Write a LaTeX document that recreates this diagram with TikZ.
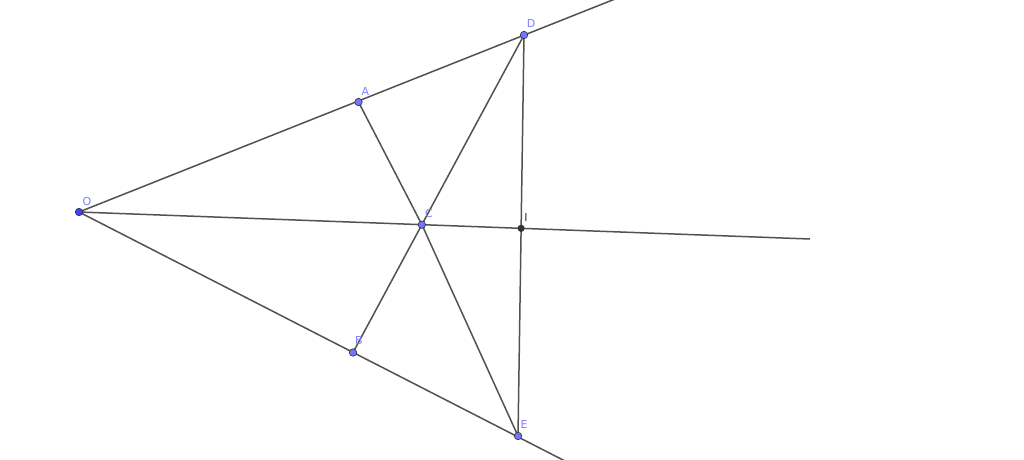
\documentclass[tikz,border=0pt]{standalone}
\usepackage{fontspec}
\setmainfont{DejaVu Sans}
\begin{document}
\begin{tikzpicture}[x=1pt,y=-1pt,
  seg/.style={draw=black!68,line width=1.5pt},
  pt/.style={circle,draw=black!80,fill=blue!55!white,line width=0.6pt,inner sep=0pt,minimum size=7.5pt},
  ptO/.style={pt,fill=blue!75!white},
  ptI/.style={pt,fill=black!80,minimum size=6.5pt},
  lbl/.style={text=blue!50!white,font=\fontsize{11}{13}\selectfont,inner sep=0pt},
  lblI/.style={lbl,text=black!80}]
\useasboundingbox (0,0) rectangle (1024,459);
\fill[white] (0,0) rectangle (1024,459);
\coordinate (O) at (79,212);
\coordinate (A) at (358.5,102);
\coordinate (D) at (524,35);
\coordinate (B) at (353,352.5);
\coordinate (E) at (518,436);
\coordinate (P) at (615,-1);
\coordinate (Q) at (565,461);
\coordinate (R) at (810,239);
\coordinate (C) at (intersection of O--R and B--D);
\coordinate (I) at (intersection of O--R and D--E);
\draw[seg] (O) -- (P);
\draw[seg] (O) -- (Q);
\draw[seg] (O) -- (R);
\draw[seg] (A) -- (C) -- (E);
\draw[seg] (B) -- (D);
\draw[seg] (D) -- (E);
\node[ptO] (nO) at (O) {};
\node[pt] (nA) at (A) {};
\node[pt] (nD) at (D) {};
\node[pt] (nB) at (B) {};
\node[pt] (nE) at (E) {};
\node[pt] (nC) at (C) {};
\node[ptI] (nI) at (I) {};
\node[lbl] (lO) at ([shift={(8,-11)}]O) {O};
\node[lbl] (lA) at ([shift={(7,-11)}]A) {A};
\node[lbl] (lD) at ([shift={(7,-12)}]D) {D};
\node[lbl] (lC) at ([shift={(7,-11)}]C) {C};
\node[lblI] (lI) at ([shift={(5,-11)}]I) {I};
\node[lbl] (lB) at ([shift={(6,-12)}]B) {B};
\node[lbl] (lE) at ([shift={(6,-12)}]E) {E};
\end{tikzpicture}
\end{document}
